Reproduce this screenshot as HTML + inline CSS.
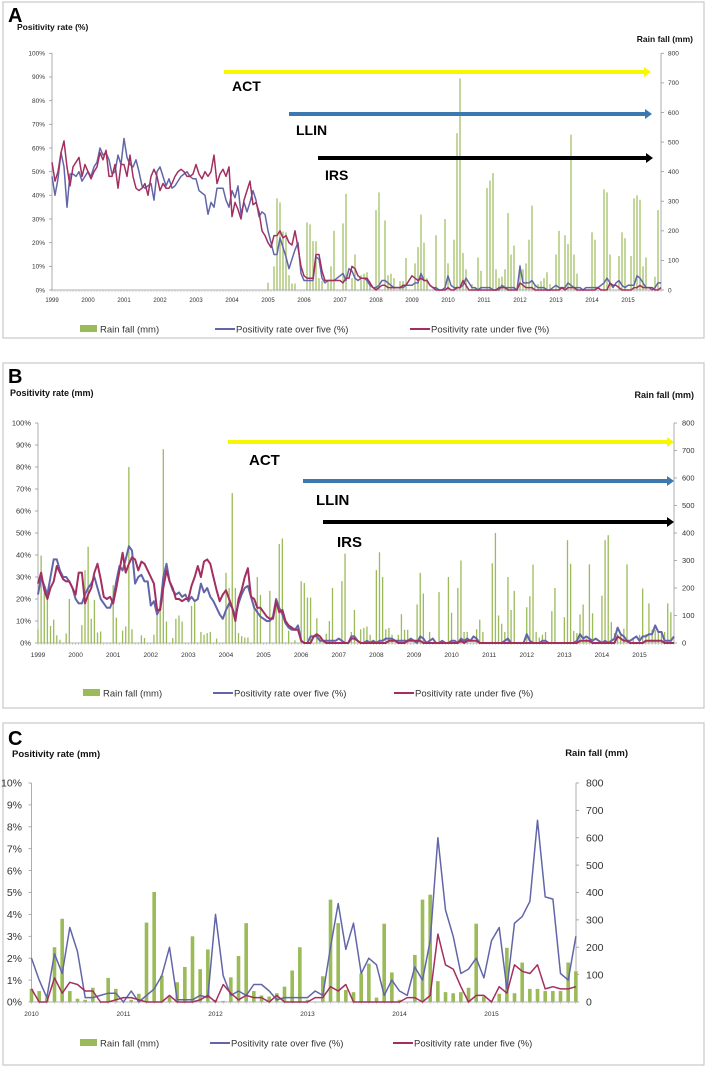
<!DOCTYPE html>
<html><head><meta charset="utf-8"><style>
html,body{margin:0;padding:0;background:#fff}
svg{display:block}
text{font-family:"Liberation Sans",sans-serif}
</style></head><body>
<svg id="fig" width="707" height="1068" viewBox="0 0 707 1068" xmlns="http://www.w3.org/2000/svg"></svg>
<script>
// ---------- DATA ----------
const yearLabelsAB = ["1999","2000","2001","2002","2003","2004","2005","2006","2007","2008","2009","2010","2011","2012","2013","2014","2015"];
const yearLabelsC = ["2010","2011","2012","2013","2014","2015"];
const pctTicksAB = ["0%","10%","20%","30%","40%","50%","60%","70%","80%","90%","100%"];
const pctTicksC = ["0%","1%","2%","3%","4%","5%","6%","7%","8%","9%","10%"];
const rainTicks = ["0","100","200","300","400","500","600","700","800"];

const aOver = [48,40,47,58,52,35,49,49,48,50,46,48, 50,48,52,54,60,57,58,55,49,50,57,53, 64,56,53,52,55,50,44,43,44,45,38,50, 52,48,44,47,43,44,46,48,49,50,48,47, 47,42,41,40,32,37,35,43,43,43,38,35, 42,39,44,32,37,33,37,42,38,31,33,32, 25,20,15,15,22,18,14,9,13,17,20,7, 4,4,4,4,14,13,5,3,4,4,4,5, 6,7,4,9,8,5,4,5,5,4,2,1, 1,2,4,4,3,2,1,1,1,1,2,2, 2,3,3,7,4,4,2,1,1,0,0,1, 6,2,1,1,1,2,5,3,1,1,0,1, 1,1,1,0,0,0,2,1,1,1,1,0, 10,3,3,3,4,2,1,1,1,0,0,1, 2,1,1,1,3,2,1,1,1,0,1,1, 1,1,1,2,3,5,3,1,3,4,2,1, 2,2,2,6,5,3,1,1,0,1,3,3];
const aUnder = [54,46,50,58,63,52,44,52,54,56,48,53, 50,47,50,52,58,55,59,48,48,53,43,53, 53,48,57,48,43,42,43,45,40,48,51,48, 42,45,43,43,45,48,50,51,50,48,48,49, 53,49,47,50,48,50,57,45,49,51,48,52, 31,37,34,30,38,42,46,36,37,33,25,23, 20,18,23,23,25,22,23,20,19,25,18,10, 6,5,5,5,15,15,8,4,4,4,4,4, 4,3,5,5,10,9,6,5,5,5,3,1, 0,1,2,2,1,1,1,1,1,2,2,4, 6,5,4,5,4,4,2,1,0,0,0,0, 1,0,0,1,1,4,2,0,0,0,0,0, 0,0,0,0,0,1,1,1,0,0,0,0, 3,2,1,1,1,0,0,0,0,0,0,0, 0,0,1,0,1,1,1,0,0,0,0,0, 0,0,1,0,0,0,3,2,2,1,0,0, 0,0,1,1,2,1,1,1,1,0,0,1];
const aRain = [0,0,0,0,0,0,0,0,0,0,0,0, 0,0,0,0,0,0,0,0,0,0,0,0, 0,0,0,0,0,0,0,0,0,0,0,0, 0,0,0,0,0,0,0,0,0,0,0,0, 0,0,0,0,0,0,0,0,0,0,0,0, 0,0,0,0,0,0,0,0,0,0,0,0, 25,0,80,310,296,198,195,50,22,22,0,0, 0,228,222,165,165,40,30,0,30,80,200,0, 0,225,325,0,40,120,0,50,55,60,30,0, 270,330,0,235,50,55,40,0,30,30,108,0, 0,90,145,255,160,40,0,0,185,0,0,240, 90,0,170,530,715,125,70,0,20,10,110,65, 0,345,370,395,70,40,45,70,260,120,150,0, 85,70,90,170,285,20,20,30,40,60,20,0, 120,200,0,185,155,525,120,55,0,0,0,0, 195,170,0,0,340,330,120,0,0,115,195,175, 0,115,310,320,305,80,110,0,0,45,270,0];

const bOver = [22,30,26,22,30,38,38,33,30,30,28,25, 20,18,18,22,25,27,30,25,20,18,16,16, 20,28,35,33,38,44,42,27,30,31,28,28, 17,19,13,16,30,36,28,24,22,23,21,22, 19,21,19,20,27,23,25,21,19,16,13,11, 15,18,16,12,18,22,25,26,21,16,14,12, 11,10,10,12,20,16,13,9,7,6,6,8, 1,0,0,3,3,3,1,1,1,1,1,1, 2,1,0,0,3,3,1,0,0,1,0,1, 0,1,1,2,2,2,1,1,1,1,1,2, 1,0,3,2,0,1,2,0,0,1,0,0, 1,1,0,2,1,2,1,3,2,0,0,0, 0,0,0,0,0,1,2,0,0,0,0,0, 4,1,0,0,0,1,1,0,0,0,0,0, 0,0,0,0,1,4,2,3,2,1,2,1, 0,1,0,1,2,7,4,3,1,1,2,3, 1,3,3,4,4,8,5,5,1,1,1,3];
const bUnder = [27,32,24,20,25,28,35,32,29,28,28,25, 22,32,32,18,22,25,32,36,29,21,20,21, 18,25,33,41,32,36,39,38,33,37,36,33, 30,27,15,15,25,33,28,25,20,20,19,20, 20,26,30,35,30,37,38,36,30,24,19,22, 24,20,16,10,20,24,30,34,21,20,16,16, 14,12,11,11,19,14,15,10,8,7,6,6, 1,0,0,0,3,4,3,1,0,0,0,0, 0,0,0,0,2,2,1,0,0,0,0,0, 0,0,0,0,1,1,1,0,0,0,1,1, 1,1,1,0,0,0,0,0,0,0,0,0, 0,0,0,1,0,1,1,1,1,0,0,0, 0,0,0,0,0,0,0,0,0,0,0,0, 0,0,0,0,0,0,0,0,0,0,0,0, 0,0,0,0,0,1,1,1,1,0,0,0, 0,0,0,0,0,3,2,1,1,0,0,0, 0,0,1,1,1,1,1,1,0,0,0,0];
const bRain = [50,318,184,160,62,85,28,12,0,35,160,0, 0,0,65,265,350,88,156,38,42,0,0,0, 210,92,0,45,60,640,50,0,0,28,18,0, 0,30,125,155,705,78,0,18,88,100,78,0, 0,135,148,0,40,30,36,40,0,16,0,0, 255,200,545,200,36,25,20,20,0,140,240,175, 0,0,190,0,140,360,380,0,45,0,10,0, 225,218,165,165,0,90,20,0,34,80,200,0, 0,225,325,0,40,120,0,50,55,60,30,0, 265,330,240,50,55,30,0,30,105,48,48,0, 0,140,255,180,0,40,0,0,185,0,0,240, 110,0,200,300,40,40,0,0,50,85,40,0, 0,290,400,100,70,40,240,120,190,0,0,0, 130,170,285,40,20,30,40,0,116,200,0,0, 94,374,288,44,36,104,140,16,286,108,0,0, 172,374,392,76,36,32,36,52,286,0,20,0, 30,198,32,144,48,48,40,40,40,144,112,0];

const cOver = [2.0,1.0,0.2,2.2,1.3,3.4,2.3,0.2,0.2,0.3,0.4,0.4, 0.0,0.5,0.0,0.3,0.6,1.2,2.5,0.1,0.1,0.1,0.3,0.2, 4.0,1.2,0.3,0.5,0.3,0.8,0.8,0.5,0.1,0.2,0.2,0.2, 0.2,0.5,0.3,2.5,4.5,2.4,3.6,1.3,2.0,1.7,0.3,1.0, 0.5,0.3,1.6,1.0,2.8,7.5,4.2,3.0,1.3,1.5,2.0,1.1, 2.8,3.4,0.6,3.6,3.9,4.6,8.3,4.8,4.7,1.3,1.0,3.0];
const cUnder = [0.6,0.0,0.0,1.1,0.4,0.9,0.8,0.5,0.5,0.0,0.0,0.1, 0.2,0.2,0.1,0.0,0.0,0.0,0.3,0.0,0.0,0.0,0.1,0.3, 0.0,0.8,0.4,0.1,0.3,0.2,0.2,0.0,0.3,0.0,0.0,0.0, 0.0,0.2,0.2,0.7,0.5,0.8,0.0,0.0,0.0,0.0,0.0,0.0, 0.0,0.2,0.2,0.0,0.3,3.1,1.7,1.5,0.7,0.0,0.3,0.3, 0.0,0.7,0.4,1.7,1.4,1.3,1.7,0.6,0.7,0.6,0.6,0.7];
const cRain = [48,40,16,200,304,40,12,8,52,0,88,48, 0,8,30,290,402,96,24,72,128,240,120,192, 8,4,90,168,288,40,24,20,32,56,115,200, 8,0,94,374,288,44,36,104,140,16,286,108, 8,0,172,374,392,76,36,32,36,52,286,20, 0,30,198,32,144,48,48,40,40,40,144,112];

// ---------- DRAWING ----------
const NS = "http://www.w3.org/2000/svg";
const svg = document.getElementById('fig');
function mk(tag, attrs, parent) {
  const e = document.createElementNS(NS, tag);
  for (const k in attrs) e.setAttribute(k, attrs[k]);
  (parent || svg).appendChild(e);
  return e;
}
function txt(str, attrs, parent) { const t = mk('text', attrs, parent); t.textContent = str; return t; }

const BLUE = "#6266a8", RED = "#a32e60", GREEN = "#9bbb59";

function panel(cfg, over, under, rain) {
  const g = mk('g', {});
  
  
  const fr = mk('rect', {x:cfg.box[0], y:cfg.box[1], width:cfg.box[2], height:cfg.box[3], fill:'none', stroke:'#c8c8c8', 'stroke-width':1.2}, g);
  
  
  const n = over.length;
  const xS = i => cfg.x0 + i * cfg.mw;
  const yL = v => cfg.y0 - v / cfg.lmax * (cfg.y0 - cfg.yt);
  const yR = v => cfg.y0 - v / 800 * (cfg.y0 - cfg.yt);
  const la = mk('line', {x1:cfg.x0, y1:cfg.yt, x2:cfg.x0, y2:cfg.y0, stroke:'#999', 'stroke-width':0.8}, g);
  
  
  const ra = mk('line', {x1:cfg.rx, y1:cfg.yt, x2:cfg.rx, y2:cfg.y0, stroke:'#999', 'stroke-width':0.8}, g);
  
  
  const xa = mk('line', {x1:cfg.x0, y1:cfg.y0, x2:cfg.rx, y2:cfg.y0, stroke:'#999', 'stroke-width':0.8}, g);
  
  
  for (let i = 0; i < n; i++) mk('line', {x1:xS(i), y1:cfg.y0, x2:xS(i), y2:cfg.y0 + 2, stroke:'#aaa', 'stroke-width':0.5}, g);
  cfg.pct.forEach((lab, k) => {
    const v = k * cfg.lmax / 10, y = yL(v);
    mk('line', {x1:cfg.x0 - 3, y1:y, x2:cfg.x0, y2:y, stroke:'#999', 'stroke-width':0.8}, g);
    const t = txt(lab, {x:cfg.lx, y:y + cfg.tf * 0.35, 'font-size':cfg.tf, 'text-anchor':'end', fill:'#333'}, g);
    
    
  });
  rainTicks.forEach((lab) => {
    const y = yR(+lab);
    mk('line', {x1:cfg.rx, y1:y, x2:cfg.rx + 3, y2:y, stroke:'#999', 'stroke-width':0.8}, g);
    const t = txt(lab, {x:cfg.rlx, y:y + cfg.tf * 0.35, 'font-size':cfg.tf, fill:'#333'}, g);
    
    
  });
  cfg.years.forEach((lab, k) => {
    const t = txt(lab, {x:xS(k * 12), y:cfg.yly, 'font-size':cfg.yf, 'text-anchor':'middle', fill:'#333'}, g);
    
    
  });
  rain.forEach((v, i) => {
    if (v <= 0) return;
    const b = mk('rect', {x:xS(i) - cfg.bw / 2, y:yR(v), width:cfg.bw, height:cfg.y0 - yR(v), fill:GREEN}, g);
    
    
  });
  const pts = arr => arr.map((v, i) => xS(i).toFixed(1) + ',' + yL(v).toFixed(1)).join(' ');
  const lb = mk('polyline', {points:pts(over), fill:'none', stroke:BLUE, 'stroke-width':cfg.lw, 'stroke-linejoin':'round'}, g);
  
  
  const lr = mk('polyline', {points:pts(under), fill:'none', stroke:RED, 'stroke-width':cfg.lw, 'stroke-linejoin':'round'}, g);
  
  
  const pl = txt(cfg.letter, {x:cfg.box[0] + 5, y:cfg.letterY, 'font-size':20, 'font-weight':'bold', fill:'#000'}, g);
  
  
  const lt = txt(cfg.ltitle, {x:cfg.ltx, y:cfg.lty, 'font-size':cfg.titleF, 'font-weight':'bold', fill:'#111'}, g);
  
  
  const rt = txt('Rain fall (mm)', {x:cfg.rtx, y:cfg.rty, 'font-size':cfg.titleF, 'font-weight':'bold', 'text-anchor':'end', fill:'#111'}, g);
  
  
  (cfg.arrows || []).forEach(a => {
    const ag = mk('g', {}, g);
    
    
    mk('line', {x1:a.x1, y1:a.y, x2:a.x2 - 6, y2:a.y, stroke:a.c, 'stroke-width':4}, ag);
    mk('polygon', {points:`${a.x2 - 7},${a.y - 5} ${a.x2},${a.y} ${a.x2 - 7},${a.y + 5}`, fill:a.c}, ag);
    txt(a.label, {x:a.tx, y:a.ty, 'font-size':cfg.arrF, 'font-weight':'bold', fill:'#000'}, ag);
  });
  const lg = mk('g', {}, g);
  
  
  const L = cfg.leg;
  mk('rect', {x:L.gx, y:L.y - 4, width:17, height:7, fill:GREEN}, lg);
  txt('Rain fall (mm)', {x:L.gx + 20, y:L.y + 3.5, 'font-size':cfg.legF, fill:'#333'}, lg);
  mk('line', {x1:L.bx, y1:L.y, x2:L.bx + 20, y2:L.y, stroke:BLUE, 'stroke-width':2}, lg);
  txt('Positivity rate over five (%)', {x:L.bx + 21, y:L.y + 3.5, 'font-size':cfg.legF, fill:'#333'}, lg);
  mk('line', {x1:L.rx, y1:L.y, x2:L.rx + 20, y2:L.y, stroke:RED, 'stroke-width':2}, lg);
  txt('Positivity rate under five (%)', {x:L.rx + 21, y:L.y + 3.5, 'font-size':cfg.legF, fill:'#333'}, lg);
}

panel({name:'panel-a', letter:'A', box:[3,2,701,336], letterY:22, ltitle:'Positivity rate (%)', ltx:17, lty:30, rtx:693, rty:42, titleF:8.5,
  x0:52, mw:3.0, rx:661, y0:290, yt:53.3, lmax:100, pct:pctTicksAB, years:yearLabelsAB, lx:45, rlx:668, tf:6.5, yf:6, yly:302, bw:1.2, lw:1.5,
  arrF:14, arrows:[{label:'ACT', c:'#f7f700', y:72, x1:224, x2:651, tx:232, ty:91},
                  {label:'LLIN', c:'#3b79ae', y:114, x1:289, x2:652, tx:296, ty:135},
                  {label:'IRS', c:'#000', y:158, x1:318, x2:653, tx:325, ty:180}],
  leg:{y:329, gx:80, bx:215, rx:410}, legF:9.5}, aOver, aUnder, aRain);

panel({name:'panel-b', letter:'B', box:[3,363,701,345], letterY:383, ltitle:'Positivity rate (mm)', ltx:10, lty:396, rtx:694, rty:398, titleF:9,
  x0:38, mw:3.133, rx:674, y0:643, yt:423, lmax:100, pct:pctTicksAB, years:yearLabelsAB, lx:31, rlx:682, tf:7.5, yf:6.5, yly:657, bw:1.3, lw:2,
  arrF:15, arrows:[{label:'ACT', c:'#f7f700', y:442, x1:228, x2:674, tx:249, ty:465},
                  {label:'LLIN', c:'#3b79ae', y:481, x1:303, x2:674, tx:316, ty:505},
                  {label:'IRS', c:'#000', y:522, x1:323, x2:674, tx:337, ty:547}],
  leg:{y:693, gx:83, bx:213, rx:394}, legF:9.5}, bOver, bUnder, bRain);

panel({name:'panel-c', letter:'C', box:[3,723,701,342], letterY:745, ltitle:'Positivity rate (mm)', ltx:12, lty:757, rtx:628, rty:756, titleF:9.5,
  x0:31.5, mw:7.667, rx:576, y0:1002, yt:783, lmax:10, pct:pctTicksC, years:yearLabelsC, lx:22, rlx:586, tf:10.5, yf:6.5, yly:1016, bw:3.6, lw:1.5,
  arrF:14, arrows:[], leg:{y:1043, gx:80, bx:210, rx:393}, legF:9.5}, cOver, cUnder, cRain);
</script>
</body></html>
